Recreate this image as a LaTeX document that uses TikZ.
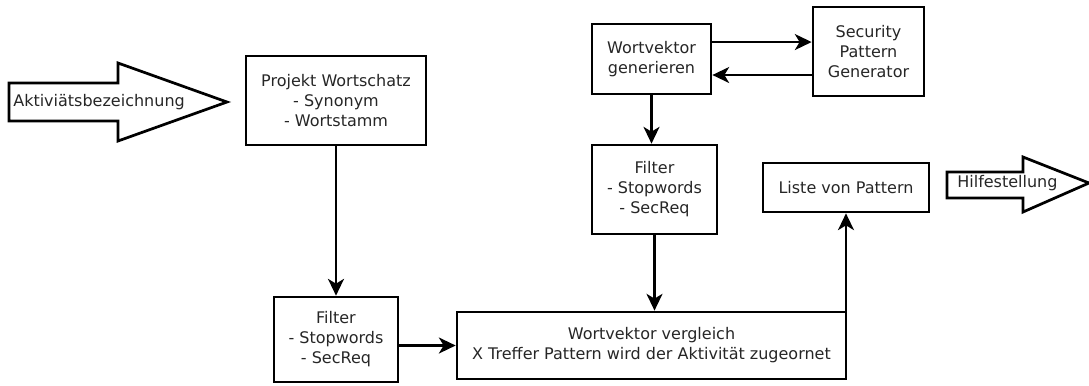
\documentclass[tikz,border=0pt]{standalone}
\usepackage{fontspec}
\setmainfont{DejaVu Sans}
\usetikzlibrary{arrows.meta, calc}

\begin{document}
\begin{tikzpicture}[x=0.625pt, y=-0.625pt,
  box/.style={draw, line width=1.7pt, align=center, inner sep=2pt, text=black!85,
    font=\fontsize{10}{12.5}\selectfont},
  flow/.style={-{Stealth[length=10.5pt, width=10pt, inset=3pt]}, line width=1.4pt},
  bigarrow/.style={draw, line width=1.7pt, line join=miter},
  label/.style={anchor=west, inner sep=0pt, text=black!85, font=\fontsize{10}{12.5}\selectfont}]
  \useasboundingbox (0,0) rectangle (1089,385);

  % Eingang
  \draw[bigarrow] (9,83) -- (118,83) -- (118,63) -- (227,102) -- (118,141) -- (118,121) -- (9,121) -- cycle;
  \node[label] (aktiv) at (13,102) {Aktiviätsbezeichnung};

  % Wortschatz und Filter links
  \node[box, minimum width=112.5pt, minimum height=55.6pt] (proj) at (336,100.5) {Projekt Wortschatz\\- Synonym\\- Wortstamm};
  \node[box, minimum width=77.5pt, minimum height=53.1pt] (filtA) at (336,339.5) {Filter\\- Stopwords\\- SecReq};

  % Wortvektor und Generator
  \node[box, minimum width=74.4pt, minimum height=43.8pt] (wgen) at (651.5,59) {Wortvektor\\generieren};
  \node[box, minimum width=69.4pt, minimum height=55.6pt] (secgen) at (868.5,51.5) {Security\\Pattern\\Generator};
  \node[box, minimum width=78.1pt, minimum height=55.6pt] (filtB) at (654.5,189.5) {Filter\\- Stopwords\\- SecReq};

  % Vergleich und Ergebnis
  \node[box, minimum width=243.1pt, minimum height=41.9pt] (vergl) at (651.5,345.5) {Wortvektor vergleich\\X Treffer Pattern wird der Aktivität zugeornet};
  \node[box, minimum width=103.8pt, minimum height=30.6pt] (liste) at (846,187.5) {Liste von Pattern};

  % Ausgang
  \draw[bigarrow] (947,172) -- (1023,172) -- (1023,157) -- (1089,183) -- (1023,212) -- (1023,198) -- (947,198) -- cycle;
  \node[label] (hilfe) at (957,183) {Hilfestellung};

  % Verbindungen
  \coordinate (wgenhi) at ([yshift=10.6pt]wgen.east);
  \coordinate (wgenlo) at ([yshift=-10pt]wgen.east);
  \coordinate (verglcorner) at ([xshift=-0.85pt]vergl.north east);
  \draw[flow] (proj.south) -- (filtA.north);
  \draw[flow] (vergl.west -| filtA.east) -- (vergl.west);
  \draw[flow] (wgenhi) -- (wgenhi -| secgen.west);
  \draw[flow] (wgenlo -| secgen.west) -- (wgenlo);
  \draw[flow] (wgen.south) -- (wgen.south |- filtB.north);
  \draw[flow] (filtB.south) -- (filtB.south |- vergl.north);
  \draw[flow] (verglcorner) -- (verglcorner |- liste.south);
\end{tikzpicture}
\end{document}
